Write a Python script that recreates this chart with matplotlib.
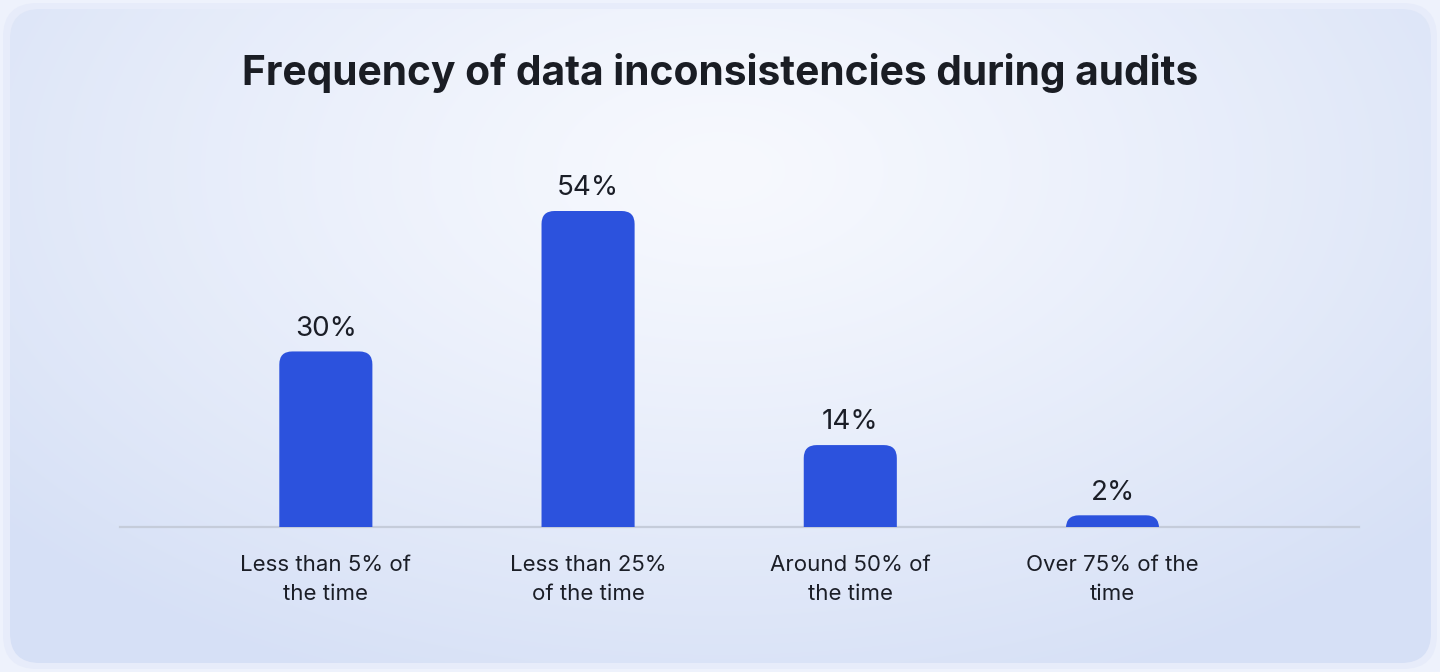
import numpy as np
import matplotlib.pyplot as plt
from matplotlib.patches import FancyBboxPatch

categories = ['Less than 5% of\nthe time', 'Less than 25%\nof the time',
              'Around 50% of\nthe time', 'Over 75% of the\ntime']
values = [30, 54, 14, 2]
value_labels = ['30%', '54%', '14%', '2%']

W, H = 14.4, 6.72
fig = plt.figure(figsize=(W, H), dpi=100)
plt.rcParams['font.family'] = ['Inter', 'DejaVu Sans']

# background: outer frame + rounded panel with soft radial gradient
bg = fig.add_axes([0, 0, 1, 1], zorder=-5)
bg.axis('off')
bg.add_patch(plt.Rectangle((0, 0), 1440, 672, color='#eef2fc', zorder=0))
frame = FancyBboxPatch((3, 3), 1434, 666, boxstyle='round,pad=0,rounding_size=34',
                       fc='#e7ecfa', ec='none', zorder=1)
bg.add_patch(frame)
yy, xx = np.mgrid[0:672, 0:1440]
d = np.sqrt(((xx - 720) / 950.0) ** 2 + ((yy - 170) / 560.0) ** 2)
d = np.clip(d, 0, 1) ** 1.2
c0 = np.array([0xf7, 0xf9, 0xfe]) / 255
c1 = np.array([0xd6, 0xe0, 0xf6]) / 255
img = c0[None, None, :] * (1 - d[..., None]) + c1[None, None, :] * d[..., None]
im = bg.imshow(img, extent=(0, 1440, 672, 0), interpolation='bilinear', zorder=2)
panel = FancyBboxPatch((10, 9), 1421, 654, boxstyle='round,pad=0,rounding_size=30',
                       fc='none', ec='none')
bg.add_patch(panel)
im.set_clip_path(panel)
bg.set_xlim(0, 1440)
bg.set_ylim(672, 0)

# main chart
left, right = 120 / 1440, 1359 / 1440
bottom = 1 - 527 / 672
ymax = 60
ax_h = (316 / 54 * ymax) / 672
ax = fig.add_axes([left, bottom, right - left, ax_h])
ax.patch.set_alpha(0)
x = np.arange(len(values))
ax.set_xlim(-0.785, 3.94)
ax.set_ylim(0, ymax)

bar_w = 0.355
bars = ax.bar(x, values, width=bar_w, color='none')
# rounded top corners
x_per_px = (3.94 + 0.785) / (W * 100 * (right - left))
y_per_px = ymax / (H * 100 * ax_h)
r_px = 13
for b, lab in zip(bars, value_labels):
    bx, bw, bh = b.get_x(), b.get_width(), b.get_height()
    ext = r_px * y_per_px
    p = FancyBboxPatch((bx, -ext), bw, bh + ext,
                       boxstyle=f'round,pad=0,rounding_size={r_px * x_per_px}',
                       mutation_aspect=y_per_px / x_per_px,
                       fc='#2c52dd', ec='none', clip_on=True)
    ax.add_patch(p)
    ax.annotate(lab, (bx + bw / 2, bh),
                xytext=(0, 7), textcoords='offset points', ha='center', va='bottom',
                fontsize=20, color='#1b1e27')

for s in ['top', 'right', 'left']:
    ax.spines[s].set_visible(False)
ax.spines['bottom'].set_color('#c5ccda')
ax.spines['bottom'].set_linewidth(1.6)
ax.spines['bottom'].set_zorder(0.5)
ax.set_yticks([])
ax.set_xticks(x)
ax.set_xticklabels(categories, fontsize=16, color='#1b1e27', linespacing=1.58)
ax.tick_params(axis='x', length=0, pad=20)

fig.text(0.5, 1 - 73 / 672, 'Frequency of data inconsistencies during audits',
         ha='center', va='center', fontsize=29.3, fontweight='bold', color='#1a1d24')

plt.savefig('out.png', dpi=100)
